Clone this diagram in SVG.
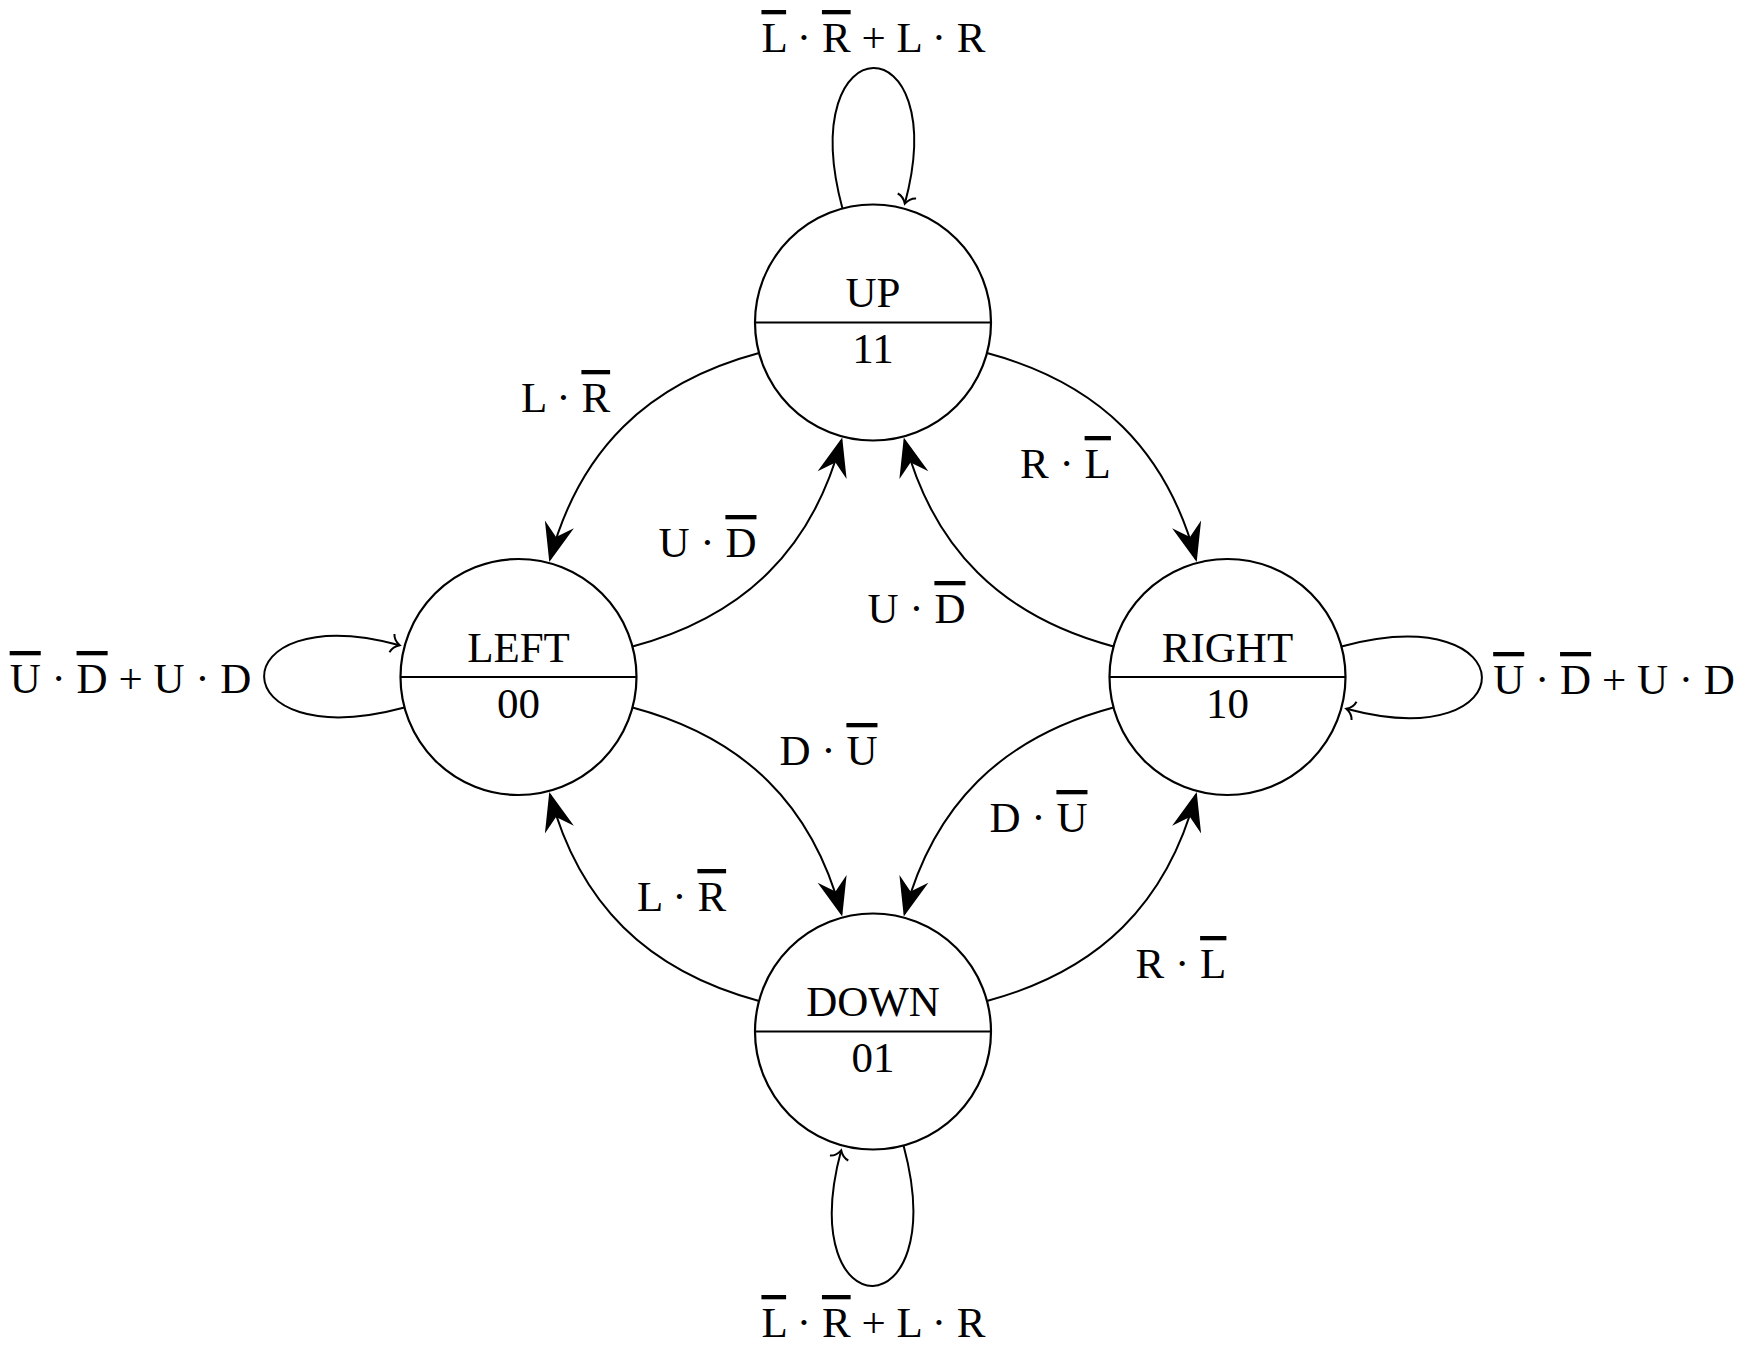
<svg xmlns="http://www.w3.org/2000/svg" width="1747" height="1354" viewBox="0 0 1747 1354">
<style>
.node circle{fill:#fff;stroke:#000;stroke-width:2.2}
.node line{stroke:#000;stroke-width:2.2}
text{font-family:"Liberation Serif","DejaVu Serif",serif;font-size:43px;fill:#000;text-anchor:middle}
.ov{text-decoration:overline;text-decoration-thickness:1.8px}
.edge{fill:none;stroke:#000;stroke-width:2}
.e{marker-end:url(#stealth)}
.l{marker-end:url(#to)}
</style>
<defs>
<marker id="stealth" markerUnits="userSpaceOnUse" orient="auto" refX="-3" refY="0" markerWidth="50" markerHeight="40" viewBox="-42 -20 50 40" overflow="visible">
<path d="M0,0 L-39,-15 L-26,0 L-39,15 Z" fill="#000"/>
</marker>
<marker id="to" markerUnits="userSpaceOnUse" orient="auto" refX="0" refY="0" markerWidth="20" markerHeight="24" viewBox="-12 -12 20 24" overflow="visible">
<path d="M-8,-9.5 C-7,-5 -3,-1.5 0,0 C-3,1.5 -7,5 -8,9.5" fill="none" stroke="#000" stroke-width="2"/>
</marker>
</defs>
<rect width="1747" height="1354" fill="#fff"/>
<g id="connectors">
<path class="edge e" d="M 759.02 353.04 C 646.72 383.13 579.13 450.72 550.07 559.16"/>
<path class="edge e" d="M 632.48 646.46 C 744.78 616.37 812.37 548.78 841.43 440.34"/>
<path class="edge e" d="M 986.98 353.04 C 1099.28 383.13 1166.87 450.72 1195.93 559.16"/>
<path class="edge e" d="M 1113.52 646.46 C 1001.22 616.37 933.63 548.78 904.57 440.34"/>
<path class="edge e" d="M 632.48 707.54 C 744.78 737.63 812.37 805.22 841.43 913.66"/>
<path class="edge e" d="M 759.02 1000.96 C 646.72 970.87 579.13 903.28 550.07 794.84"/>
<path class="edge e" d="M 1113.52 707.54 C 1001.22 737.63 933.63 805.22 904.57 913.66"/>
<path class="edge e" d="M 986.98 1000.96 C 1099.28 970.87 1166.87 903.28 1195.93 794.84"/>
<path class="edge l" d="M 842.46 208.52 C 792.51 22.1 953.49 22.1 904.83 203.69"/>
<path class="edge l" d="M 903.54 1145.48 C 953.49 1331.9 792.51 1331.9 841.17 1150.31"/>
<path class="edge l" d="M 404.52 707.54 C 218.1 757.49 218.1 596.51 399.69 645.17"/>
<path class="edge l" d="M 1341.48 646.46 C 1527.9 596.51 1527.9 757.49 1346.31 708.83"/>
<text x="873.5" y="52"><tspan class="ov">L</tspan> · <tspan class="ov">R</tspan> + L · R</text>
<text x="873.5" y="1337"><tspan class="ov">L</tspan> · <tspan class="ov">R</tspan> + L · R</text>
<text x="130.5" y="693"><tspan class="ov">U</tspan> · <tspan class="ov">D</tspan> + U · D</text>
<text x="1614" y="694"><tspan class="ov">U</tspan> · <tspan class="ov">D</tspan> + U · D</text>
<text x="565.5" y="412">L · <tspan class="ov">R</tspan></text>
<text x="707.5" y="557">U · <tspan class="ov">D</tspan></text>
<text x="1065.5" y="478">R · <tspan class="ov">L</tspan></text>
<text x="916.5" y="623">U · <tspan class="ov">D</tspan></text>
<text x="828.5" y="765">D · <tspan class="ov">U</tspan></text>
<text x="681.5" y="911">L · <tspan class="ov">R</tspan></text>
<text x="1038.5" y="832">D · <tspan class="ov">U</tspan></text>
<text x="1181" y="978">R · <tspan class="ov">L</tspan></text>
</g>
<g id="node-up" class="node">
<circle cx="873" cy="322.5" r="118"/>
<line x1="755" y1="322.5" x2="991" y2="322.5"/>
<text x="873" y="307">UP</text>
<text x="873" y="363">11</text>
</g>
<g id="node-left" class="node">
<circle cx="518.5" cy="677" r="118"/>
<line x1="400.5" y1="677" x2="636.5" y2="677"/>
<text x="518.5" y="662">LEFT</text>
<text x="518.5" y="718">00</text>
</g>
<g id="node-right" class="node">
<circle cx="1227.5" cy="677" r="118"/>
<line x1="1109.5" y1="677" x2="1345.5" y2="677"/>
<text x="1227.5" y="662">RIGHT</text>
<text x="1227.5" y="718">10</text>
</g>
<g id="node-down" class="node">
<circle cx="873" cy="1031.5" r="118"/>
<line x1="755" y1="1031.5" x2="991" y2="1031.5"/>
<text x="873" y="1016">DOWN</text>
<text x="873" y="1072">01</text>
</g>
</svg>
